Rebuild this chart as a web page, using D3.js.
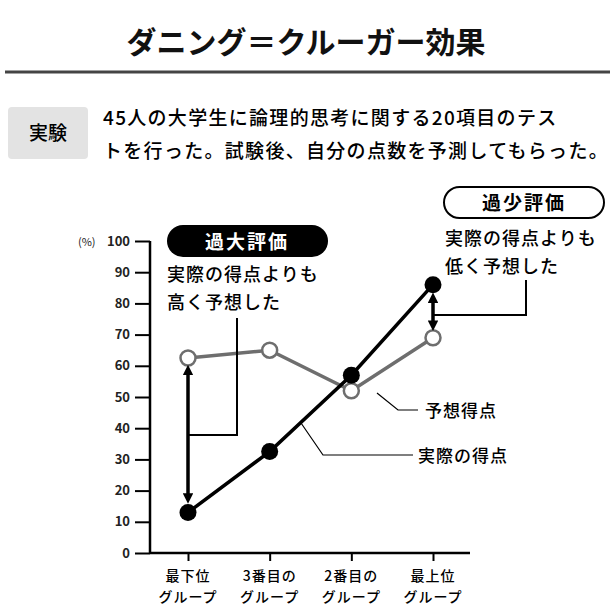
<!DOCTYPE html><html><head><meta charset="utf-8"><script src="https://cdn.jsdelivr.net/npm/d3@7"></script>
<style>body{margin:0;background:#fff}</style></head><body><svg id="c" width="613" height="609"></svg>
<script>
const categories=[["最下位","グループ"],["3番目の","グループ"],["2番目の","グループ"],["最上位","グループ"]];
const predicted=[62.5,65,52,69];
const actual=[13,32.5,57,86];
const yTicks=[0,10,20,30,40,50,60,70,80,90,100];
const F="'Noto Sans CJK JP',sans-serif";
const svg=d3.select("#c");
svg.append("text").attr("x",306).attr("y",53).attr("text-anchor","middle").attr("font-family",F).attr("font-weight",700).attr("font-size",30).attr("fill","#111").text("ダニング＝クルーガー効果");
svg.append("line").attr("x1",5).attr("x2",610).attr("y1",72).attr("y2",72).attr("stroke","#444").attr("stroke-width",3);
svg.append("rect").attr("x",8).attr("y",107).attr("width",80).attr("height",52).attr("rx",4).attr("fill","#e3e3e3");
svg.append("text").attr("x",48).attr("y",140).attr("text-anchor","middle").attr("font-family",F).attr("font-size",19).attr("font-weight",500).text("実験");
svg.append("text").attr("x",103).attr("y",125).attr("font-family",F).attr("font-size",19).attr("font-weight",500).attr("letter-spacing",1.3).text("45人の大学生に論理的思考に関する20項目のテス");
svg.append("text").attr("x",103).attr("y",158).attr("font-family",F).attr("font-size",19).attr("font-weight",500).attr("letter-spacing",1.3).text("トを行った。試験後、自分の点数を予測してもらった。");
const x=d3.scalePoint().domain(d3.range(4)).range([188,433]);
const y=d3.scaleLinear().domain([0,100]).range([553,241]);
const g=svg.append("g");
const ya=g.append("g").attr("transform","translate(150,0)").call(d3.axisLeft(y).tickValues(yTicks).tickSize(15).tickPadding(5));
ya.select(".domain").attr("d","M0,241V553").attr("stroke-width",2.5);
ya.selectAll(".tick line").attr("stroke-width",2);
ya.selectAll("text").attr("font-family",F).attr("font-size",13).attr("font-weight",700).attr("fill","#222");
g.append("text").attr("x",78).attr("y",246).attr("font-family",F).attr("font-size",11).attr("fill","#222").text("(%)");
const xa=g.append("g").attr("transform","translate(0,553)").call(d3.axisBottom(x).tickSize(8).tickFormat(""));
xa.select(".domain").attr("d","M150,0H470").attr("stroke-width",2.5);
xa.selectAll(".tick line").attr("stroke-width",2);
categories.forEach((c,i)=>c.forEach((t,j)=>g.append("text").attr("x",x(i)).attr("y",581+j*21).attr("text-anchor","middle").attr("font-family",F).attr("font-size",14).attr("font-weight",500).attr("letter-spacing",1).text(t)));
const line=d3.line().x((d,i)=>x(i)).y(d=>y(d));
g.append("path").attr("d",line(predicted)).attr("fill","none").attr("stroke","#6e6e6e").attr("stroke-width",3.5);
g.append("path").attr("d",line(actual)).attr("fill","none").attr("stroke","#000").attr("stroke-width",3.5);
predicted.forEach((d,i)=>g.append("circle").attr("cx",x(i)).attr("cy",y(d)).attr("r",7.5).attr("fill","#fff").attr("stroke","#6e6e6e").attr("stroke-width",2.5));
actual.forEach((d,i)=>g.append("circle").attr("cx",x(i)).attr("cy",y(d)).attr("r",8.5).attr("fill","#000"));
// arrows
const defs=svg.append("defs");
defs.append("marker").attr("id","ah").attr("viewBox","0 0 10 10").attr("refX",5).attr("refY",5).attr("markerWidth",3).attr("markerHeight",3).attr("orient","auto-start-reverse").append("path").attr("d","M0,0L10,5L0,10z");
function arrow(xx,a,b){g.append("line").attr("x1",xx).attr("x2",xx).attr("y1",a).attr("y2",b).attr("stroke","#000").attr("stroke-width",3.5).attr("marker-start","url(#ah)").attr("marker-end","url(#ah)");}
arrow(x(0),y(predicted[0])+12,y(actual[0])-14);
arrow(x(3),y(actual[3])+13,y(predicted[3])-12);
g.append("path").attr("d",`M${x(0)},435H237V318`).attr("fill","none").attr("stroke","#000").attr("stroke-width",2);
g.append("path").attr("d",`M${x(3)},315H526V280`).attr("fill","none").attr("stroke","#000").attr("stroke-width",2);
// callouts
svg.append("rect").attr("x",167).attr("y",225).attr("width",161).attr("height",32).attr("rx",16).attr("fill","#000");
svg.append("text").attr("x",247).attr("y",249).attr("text-anchor","middle").attr("font-family",F).attr("font-size",19).attr("font-weight",700).attr("fill","#fff").attr("letter-spacing",2).text("過大評価");
svg.append("text").attr("x",167).attr("y",281).attr("font-family",F).attr("font-size",18).attr("font-weight",500).attr("letter-spacing",1).text("実際の得点よりも");
svg.append("text").attr("x",167).attr("y",309).attr("font-family",F).attr("font-size",18).attr("font-weight",500).attr("letter-spacing",1).text("高く予想した");
svg.append("rect").attr("x",444).attr("y",187).attr("width",160).attr("height",31).attr("rx",15.5).attr("fill","#fff").attr("stroke","#000").attr("stroke-width",2);
svg.append("text").attr("x",524).attr("y",210).attr("text-anchor","middle").attr("font-family",F).attr("font-size",19).attr("font-weight",700).attr("letter-spacing",2).text("過少評価");
svg.append("text").attr("x",445).attr("y",245).attr("font-family",F).attr("font-size",18).attr("font-weight",500).attr("letter-spacing",1).text("実際の得点よりも");
svg.append("text").attr("x",445).attr("y",273).attr("font-family",F).attr("font-size",18).attr("font-weight",500).attr("letter-spacing",1).text("低く予想した");
// legend leaders
g.append("path").attr("d","M377,393L398,410H418").attr("fill","none").attr("stroke","#000").attr("stroke-width",1.2);
g.append("path").attr("d","M301,423L323,455H413").attr("fill","none").attr("stroke","#000").attr("stroke-width",1.2);
svg.append("text").attr("x",425).attr("y",417).attr("font-family",F).attr("font-size",17).attr("font-weight",500).attr("letter-spacing",1).text("予想得点");
svg.append("text").attr("x",418).attr("y",462).attr("font-family",F).attr("font-size",17).attr("font-weight",500).attr("letter-spacing",1).text("実際の得点");
</script></body></html>
